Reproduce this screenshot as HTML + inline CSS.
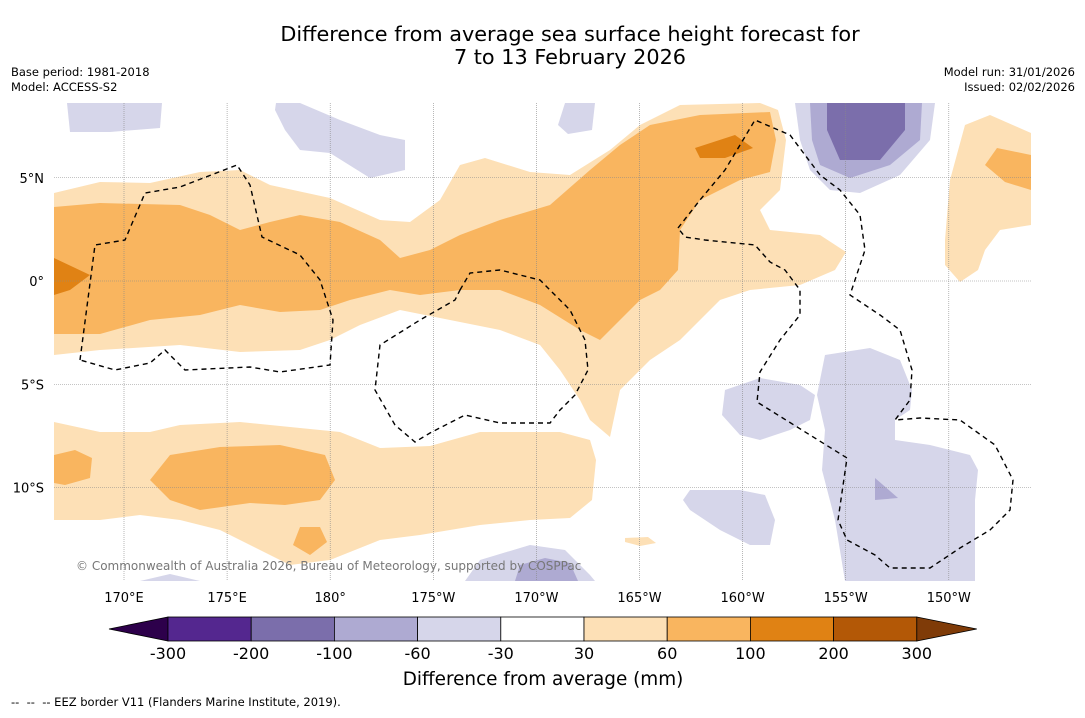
<!DOCTYPE html>
<html><head><meta charset="utf-8"><style>
body{margin:0;background:#fff;font-family:"Liberation Sans","DejaVu Sans",sans-serif;}
svg text{font-family:"DejaVu Sans","Liberation Sans",sans-serif;}
</style></head><body>
<svg width="1085" height="713" viewBox="0 0 1085 713">
<rect width="1085" height="713" fill="#fff"/>
<text x="570" y="41" font-size="20.8" text-anchor="middle">Difference from average sea surface height forecast for</text>
<text x="570" y="64" font-size="20.8" text-anchor="middle">7 to 13 February 2026</text>
<text x="11" y="76" font-size="11.5">Base period: 1981-2018</text>
<text x="11" y="91" font-size="11.5">Model: ACCESS-S2</text>
<text x="1075" y="76" font-size="11.5" text-anchor="end">Model run: 31/01/2026</text>
<text x="1075" y="91" font-size="11.5" text-anchor="end">Issued: 02/02/2026</text>

<defs><clipPath id="mc"><rect x="54" y="103" width="977" height="478"/></clipPath></defs>
<g clip-path="url(#mc)">
<g stroke="none">
<polygon fill="#fde0b6" points="54,193 100,182 150,183 200,172 240,170 270,185 330,198 380,220 410,222 440,200 460,165 485,158 530,172 570,175 610,150 640,125 680,105 760,103 778,110 786,140 780,190 760,210 770,230 820,235 846,252 835,270 800,285 750,290 720,300 700,320 680,340 650,360 620,390 610,437 590,420 580,400 560,370 540,345 500,330 450,320 400,310 360,325 330,340 300,350 240,352 180,345 100,350 54,355"/>
<polygon fill="#f9b55f" points="54,207 100,203 180,205 210,215 240,230 270,222 300,215 340,222 380,240 400,258 430,250 460,235 500,220 550,205 590,170 620,145 650,125 700,115 770,112 776,140 770,172 740,180 700,200 680,230 678,270 660,290 640,300 620,320 600,340 580,330 540,305 500,290 460,290 420,295 390,290 350,300 320,310 280,312 240,305 200,315 150,320 100,334 54,334"/>
<polygon fill="#e08214" points="54,258 90,275 70,290 54,295"/>
<polygon fill="#e08214" points="695,148 735,135 753,148 725,158 700,158"/>
<polygon fill="#fde0b6" points="54,422 100,432 150,432 180,425 240,422 300,428 340,432 380,448 430,446 480,432 560,432 590,440 596,460 592,500 570,518 530,520 480,525 420,535 380,540 330,560 290,565 250,545 220,530 180,520 140,515 100,520 54,520"/>
<polygon fill="#f9b55f" points="54,455 75,450 92,458 90,478 65,485 54,483"/>
<polygon fill="#f9b55f" points="170,455 220,447 280,445 325,455 335,480 320,500 285,505 250,503 200,510 170,500 150,480"/>
<polygon fill="#f9b55f" points="300,527 320,527 327,542 310,555 293,545"/>
<polygon fill="#fde0b6" points="965,125 990,115 1031,133 1031,225 1000,230 985,250 978,270 960,282 945,265 945,240 950,180"/>
<polygon fill="#f9b55f" points="997,148 1031,155 1031,190 1005,182 985,165"/>
<polygon fill="#fde0b6" points="625,538 648,537 656,543 640,546 625,542"/>
<polygon fill="#d6d6ea" points="795,103 935,103 930,140 900,175 860,193 830,190 810,170 800,140"/>
<polygon fill="#aeaad2" points="810,103 922,103 920,140 890,165 850,178 820,165 812,140"/>
<polygon fill="#7b6eab" points="827,103 905,103 905,130 880,160 840,160 827,130"/>
<polygon fill="#d6d6ea" points="825,355 870,348 900,360 912,390 910,410 895,420 895,440 930,445 970,455 978,470 975,500 975,581 845,581 835,520 822,470 825,430 817,395"/>
<polygon fill="#d6d6ea" points="725,390 760,378 800,385 815,395 810,420 790,430 760,440 740,435 722,415"/>
<polygon fill="#d6d6ea" points="690,490 740,490 765,495 775,520 770,545 750,545 720,530 690,510 683,500"/>
<polygon fill="#aeaad2" points="875,478 898,498 875,500"/>
<polygon fill="#d6d6ea" points="480,560 530,545 565,550 590,575 595,581 465,581"/>
<polygon fill="#aeaad2" points="520,565 545,558 570,563 578,581 515,581"/>
<polygon fill="#d6d6ea" points="67,103 162,103 160,128 110,132 70,132"/>
<polygon fill="#d6d6ea" points="276,103 300,103 340,120 380,135 405,140 405,170 370,178 330,153 300,150 285,130 275,110"/>
<polygon fill="#d6d6ea" points="565,103 595,103 592,130 568,134 558,125"/>
<polygon fill="#d6d6ea" points="140,581 170,574 200,581"/>
</g>
<g id="grid" stroke="#888" stroke-width="0.6" stroke-dasharray="1,1"></g>
<g fill="none" stroke="#000" stroke-width="1.4" stroke-dasharray="5,4">
<polyline points="80,360 95,245 125,240 145,193 180,187 237,165 250,185 262,237 300,255 320,280 333,320 330,365 280,372 250,367 185,370 165,350 150,363 115,370 80,360"/>
<polyline points="460,290 470,273 500,270 540,280 570,310 585,340 588,370 575,395 560,410 550,423 500,423 465,415 430,433 415,442 395,425 375,390 380,345 420,320 455,300 460,290"/>
<polyline points="678,228 700,200 725,170 755,120 790,135 820,175 840,190 860,215 865,250 850,295 880,315 900,330 912,370 910,400 895,420 920,418 960,420 995,445 1013,480 1010,510 990,530 960,548 930,568 890,568 875,555 847,540 838,520 847,458 757,402 760,372 780,340 800,315 800,290 785,270 770,262 755,245 705,240 685,237 678,228"/>
</g>
<text x="76" y="570" font-size="12" fill="#777">© Commonwealth of Australia 2026, Bureau of Meteorology, supported by COSPPac</text>
</g>
<g id="axislabels" font-size="13"></g>
<g id="cbar"></g>
<text x="543" y="685" font-size="18.4" text-anchor="middle">Difference from average (mm)</text>
<text x="11" y="706" font-size="11.5" xml:space="preserve" style="white-space:pre">--  --  -- EEZ border V11 (Flanders Marine Institute, 2019).</text>
</svg>
<script>
const lonTicks=[170,175,180,-175,-170,-165,-160,-155,-150];
const lonLabels=["170°E","175°E","180°","175°W","170°W","165°W","160°W","155°W","150°W"];
const latTicks=[5,0,-5,-10];
const latLabels=["5°N","0°","5°S","10°S"];
const levels=[-300,-200,-100,-60,-30,30,60,100,200,300];
const colors=["#54278f","#7b6eab","#aeaad2","#d6d6ea","#ffffff","#fde0b6","#f9b55f","#e08214","#b35806"];
const NS="http://www.w3.org/2000/svg";
function xLon(l){let d=l<0?l+360:l;return 124+(d-170)*20.62;}
function yLat(l){return 281-l*20.65;}
const grid=document.getElementById('grid'),ax=document.getElementById('axislabels'),cb=document.getElementById('cbar');
function mk(t,a,p){const e=document.createElementNS(NS,t);for(const k in a)e.setAttribute(k,a[k]);p.appendChild(e);return e;}
lonTicks.forEach((l,i)=>{const x=xLon(l);
 const ln=mk('line',{x1:x,x2:x,y1:103,y2:581},grid);
 
 
 const t=mk('text',{x:x,y:602,'text-anchor':'middle'},ax);t.textContent=lonLabels[i];
 
 });
latTicks.forEach((l,i)=>{const y=yLat(l);
 const ln=mk('line',{x1:54,x2:1031,y1:y,y2:y},grid);
 
 
 const t=mk('text',{x:44,y:y+5,'text-anchor':'end'},ax);t.textContent=latLabels[i];
 
 });
const cx0=168,cw=83.2,cy=617,ch=24;
const lt=mk('polygon',{points:`109,${cy+ch/2} ${cx0},${cy} ${cx0},${cy+ch}`,fill:'#2d004b',stroke:'#000','stroke-width':0.8},cb);


colors.forEach((c,i)=>{const r=mk('rect',{x:cx0+i*cw,y:cy,width:cw,height:ch,fill:c,stroke:'#000','stroke-width':0.8},cb);
 
 });
const xe=cx0+colors.length*cw;
const rt=mk('polygon',{points:`${xe},${cy} ${xe+60},${cy+ch/2} ${xe},${cy+ch}`,fill:'#7f3b08',stroke:'#000','stroke-width':0.8},cb);


levels.forEach((v,i)=>{const t=mk('text',{x:cx0+i*cw,y:659,'font-size':16,'text-anchor':'middle'},cb);t.textContent=v;
 
 });
</script>
</body></html>
